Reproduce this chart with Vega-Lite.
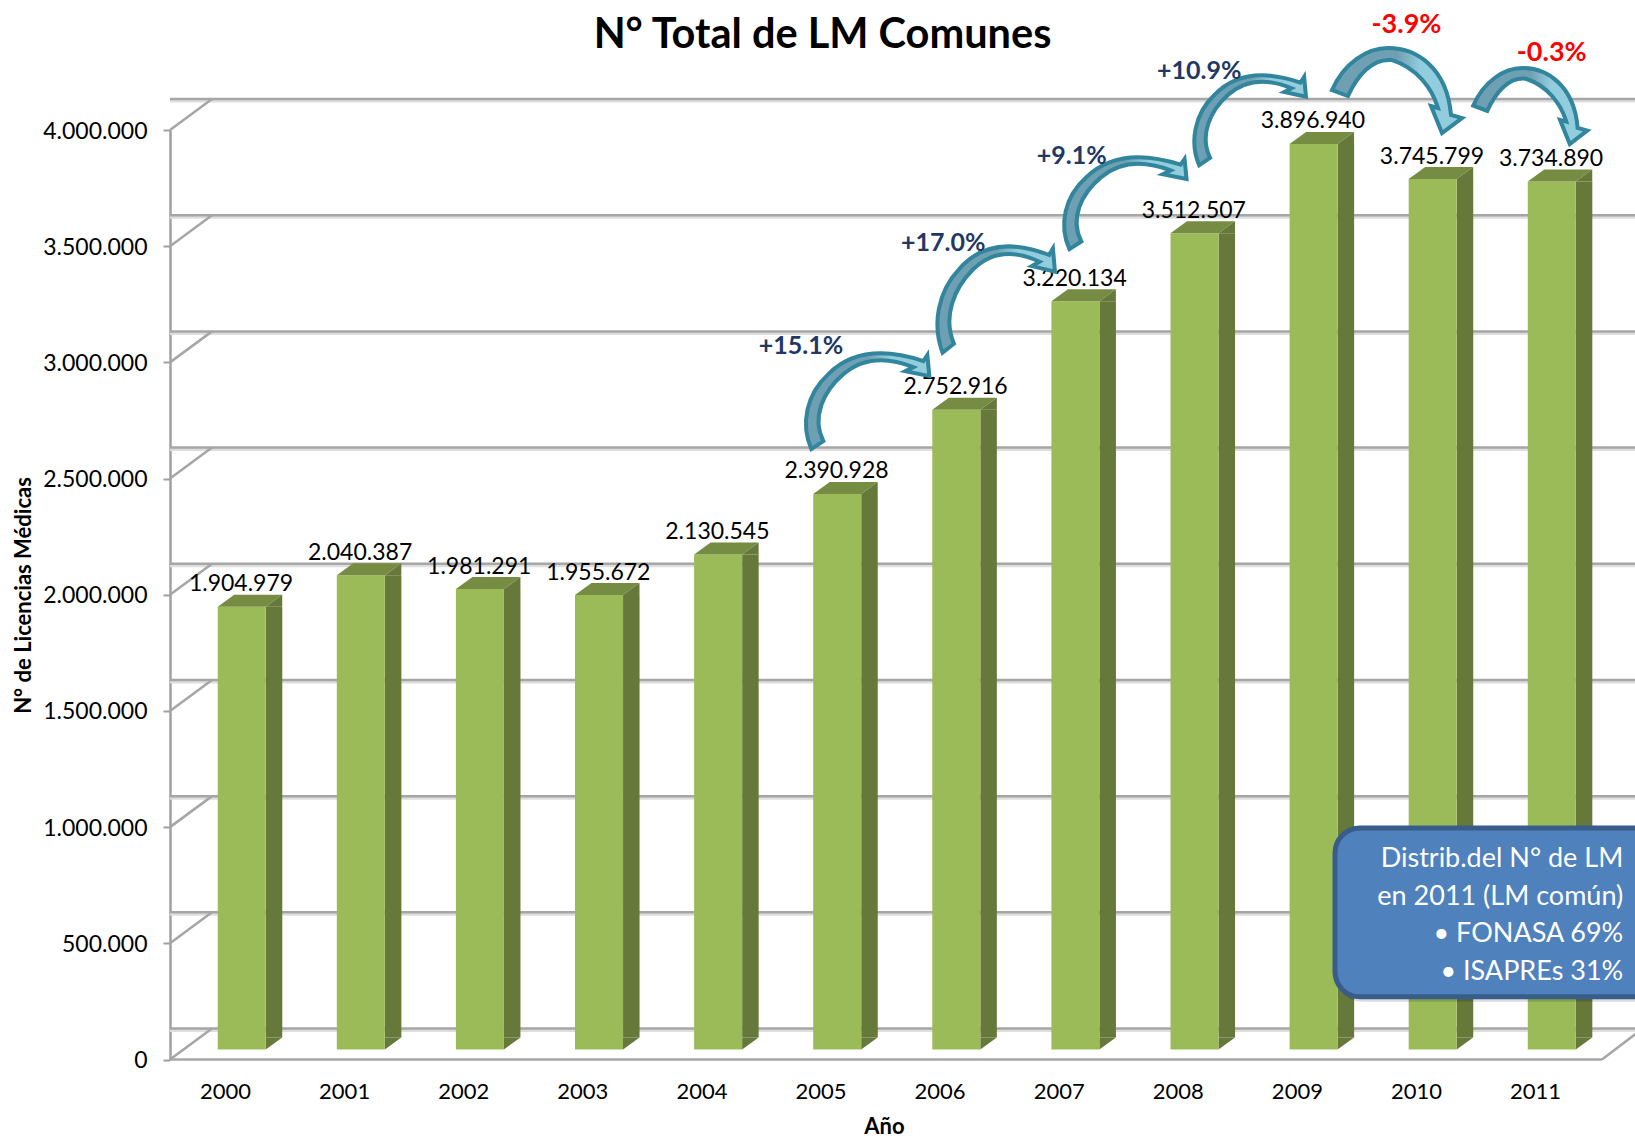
{
"$schema":"https://vega.github.io/schema/vega-lite/v6.json",
"autosize":{"type":"none"},
"padding":{"left":170,"top":130,"right":0,"bottom":78.5},
"width":1465,"height":929.5,
"background":"white",
"config":{"view":{"stroke":null},"font":"Lato","locale":{"number":{"decimal":",","thousands":".","grouping":[3],"currency":["$",""]}}},
"title":{"text":"N° Total de LM Comunes","font":"Lato","fontSize":41.5,"fontWeight":"bold","color":"black","anchor":"middle","frame":"group","dx":-80,"offset":-78,"baseline":"alphabetic"},
"datasets":{
"bars":[{"year":2000,"value":1904979},{"year":2001,"value":2040387},{"year":2002,"value":1981291},{"year":2003,"value":1955672},{"year":2004,"value":2130545},{"year":2005,"value":2390928},{"year":2006,"value":2752916},{"year":2007,"value":3220134},{"year":2008,"value":3512507},{"year":2009,"value":3896940},{"year":2010,"value":3745799},{"year":2011,"value":3734890}],
"grid":[{"tick":0},{"tick":500000},{"tick":1000000},{"tick":1500000},{"tick":2000000},{"tick":2500000},{"tick":3000000},{"tick":3500000},{"tick":4000000}],
"arrows":[{"arrow":"a1","ax":2004.856,"ay":3057100},{"arrow":"a2","ax":2005.961,"ay":3519300},{"arrow":"a3","ax":2007.024,"ay":3900300},{"arrow":"a4","ax":2008.119,"ay":4252500},{"arrow":"d1","ax":2009.295,"ay":4352700},{"arrow":"d2","ax":2010.481,"ay":4266700}],
"pct":[{"label":"+15.1%","kind":"up","px":2004.836,"py":3071300},{"label":"+17.0%","kind":"up","px":2006.03,"py":3513700},{"label":"+9.1%","kind":"up","px":2007.11,"py":3887400},{"label":"+10.9%","kind":"up","px":2008.18,"py":4252500},{"label":"-3.9%","kind":"down","px":2009.92,"py":4450100},{"label":"-0.3%","kind":"down","px":2011.14,"py":4329900}]
},
"layer":[
{"data":{"name":"grid"},"mark":{"type":"rule","color":"#dedede","strokeWidth":3,"xOffset":42,"x2Offset":42,"yOffset":-29},
 "encoding":{"y":{"field":"tick","type":"quantitative","scale":{"domain":[0,4000000],"nice":false,"zero":true},"axis":{"title":"N° de Licencias Médicas","titleFont":"Lato","titleFontSize":22,"titleFontWeight":"bold","titleColor":"black","titleX":-147,"titleY":465,"titleAngle":-90,"titleBaseline":"middle","titleAlign":"center","values":[0,500000,1000000,1500000,2000000,2500000,3000000,3500000,4000000],"format":",d","labelFont":"Lato","labelFontSize":23,"labelColor":"black","labelPadding":16,"labelOffset":1,"tickSize":7,"tickColor":"#a0a0a0","tickWidth":2,"domainColor":"#a0a0a0","domainWidth":2.5,"grid":false}}}},
{"data":{"name":"grid"},"mark":{"type":"rule","color":"#a6a6a6","strokeWidth":2.5,"xOffset":42,"x2Offset":42,"yOffset":-31},
 "encoding":{"y":{"field":"tick","type":"quantitative"}}},
{"data":{"name":"grid"},"mark":{"type":"point","shape":"M0,0 L42,-31","size":4,"filled":false,"fill":null,"stroke":"#a6a6a6","strokeWidth":2.5,"opacity":1},
 "encoding":{"x":{"datum":1999.538,"type":"quantitative"},"y":{"field":"tick","type":"quantitative"}}},
{"data":{"values":[{"floor":0}]},"mark":{"type":"rule","color":"#a6a6a6","strokeWidth":2.5},
 "encoding":{"x":{"datum":1999.538,"type":"quantitative","scale":{"domain":[1999.538,2011.839],"nice":false,"zero":false,"padding":0},"axis":{"title":"Año","titleFont":"Lato","titleFontSize":22,"titleFontWeight":"bold","titleColor":"black","titleX":714,"titleY":67,"titleBaseline":"middle","values":[2000,2001,2002,2003,2004,2005,2006,2007,2008,2009,2010,2011],"format":"d","labelFont":"Lato","labelFontSize":22,"labelColor":"black","labelPadding":22,"ticks":false,"domain":false,"grid":false}},"x2":{"datum":2011.562},"y":{"field":"floor","type":"quantitative"}}},
{"data":{"values":[{"floor":0}]},"mark":{"type":"point","shape":"M0,0 L42,-32","size":4,"filled":false,"fill":null,"stroke":"#a6a6a6","strokeWidth":2.5,"opacity":1},
 "encoding":{"x":{"datum":2011.562,"type":"quantitative"},"y":{"field":"floor","type":"quantitative"}}},
{"data":{"name":"bars"},"mark":{"type":"bar","orient":"vertical","width":16.5,"color":"#66793a","xOffset":49,"yOffset":-10,"y2Offset":-22},
 "encoding":{"x":{"field":"year","type":"quantitative"},"y":{"field":"value","type":"quantitative","stack":null},"y2":{"datum":0}}},
{"data":{"name":"bars"},"mark":{"type":"point","shape":"M40.7,-10 L57.2,-22 L40.7,-22 Z","size":4,"filled":true,"fill":"#66793a","strokeWidth":0,"opacity":1},
 "encoding":{"x":{"field":"year","type":"quantitative"},"y":{"datum":0,"type":"quantitative"}}},
{"data":{"name":"bars"},"mark":{"type":"bar","orient":"vertical","width":48,"color":"#9bbb59","xOffset":16.7,"yOffset":-10,"y2Offset":-10},
 "encoding":{"x":{"field":"year","type":"quantitative"},"y":{"field":"value","type":"quantitative","stack":null},"y2":{"datum":0}}},
{"data":{"name":"bars"},"mark":{"type":"point","shape":"M-7.3,-10 L40.7,-10 L57.2,-22 L9.2,-22 Z","size":4,"filled":true,"fill":"#778c43","strokeWidth":0,"opacity":1},
 "encoding":{"x":{"field":"year","type":"quantitative"},"y":{"field":"value","type":"quantitative"}}},
{"data":{"name":"bars"},"mark":{"type":"point","shape":"M40.7,-10 L57.2,-22 L57.2,-10 L40.7,-10 Z","size":4,"filled":true,"fill":"#66793a","strokeWidth":0,"opacity":1},
 "encoding":{"x":{"field":"year","type":"quantitative"},"y":{"field":"value","type":"quantitative"}}},
{"data":{"name":"bars"},"mark":{"type":"text","font":"Lato","fontSize":23,"color":"black","align":"center","baseline":"middle","xOffset":16,"yOffset":-32.5},
 "encoding":{"x":{"field":"year","type":"quantitative"},"y":{"field":"value","type":"quantitative"},"text":{"field":"value","type":"quantitative","format":",d"}}},
{"data":{"name":"arrows"},"mark":{"type":"point","size":4,"filled":true,"opacity":1,"stroke":"#31859c","strokeWidth":4,"fill":{"gradient":"linear","x1":0,"y1":0,"x2":1,"y2":0,"stops":[{"offset":0,"color":"#6f9fb2"},{"offset":0.5,"color":"#6f9fb2"},{"offset":0.68,"color":"#92cddd"},{"offset":1,"color":"#92cddd"}]}},
 "encoding":{"x":{"field":"ax","type":"quantitative"},"y":{"field":"ay","type":"quantitative"},"shape":{"field":"arrow","type":"nominal","legend":null,"scale":{"domain":["a1","a2","a3","a4","d1","d2"],"range":["M8,100 C-3,75 3,45 25,25 C45,5 75,-3 120,12 L124,6 L126,27 L102,22 L110,18 C85,8 60,8 40,25 C20,42 8,68 20,92 Z","M7.6,111 C-2.9,83 2.9,50 23.8,27.8 C42.8,5.6 71.4,-3.3 114.2,13.3 L118,6.7 L120,30 L97,24.4 L104.7,20 C80.9,8.9 57.1,8.9 38,27.8 C19,46.6 7.6,75.5 19,102 Z","M7.9,96 C-3,72 3,43.2 24.8,24 C44.6,4.8 74.4,-2.9 119,11.5 L123,5.8 L125,25.9 L101.2,21.1 L109.1,17.3 C84.3,7.7 59.5,7.7 39.7,24 C19.8,40.3 7.9,65.3 19.8,88.3 Z","M7.2,94 C-2.7,70.5 2.7,42.3 22.6,23.5 C40.7,4.7 67.9,-2.8 108.6,11.3 L112.2,5.6 L114,25.4 L92.3,20.7 L99.6,16.9 C76.9,7.5 54.3,7.5 36.2,23.5 C18.1,39.5 7.2,63.9 18.1,86.5 Z","M0,42 C12,15 35,0 56,0 C85,0 115,20 119,67 L130,70 L110,85 L99,58 L106,60 C100,40 85,20 60,12 C40,10 25,28 16,48 Z","M0,37.5 C10.5,13.4 30.7,0 49.1,0 C74.5,0 100.9,17.9 104.4,59.9 L114,62.6 L96.5,76 L86.8,51.9 L93,53.6 C87.7,35.8 74.5,17.9 52.6,10.7 C35,8.9 21.9,25 14,42.9 Z"]}}}},
{"data":{"name":"pct"},"mark":{"type":"text","font":"Lato","fontWeight":"bold","align":"center","baseline":"middle"},
 "encoding":{"x":{"field":"px","type":"quantitative"},"y":{"field":"py","type":"quantitative"},"text":{"field":"label","type":"nominal"},"size":{"field":"kind","type":"nominal","legend":null,"scale":{"domain":["up","down"],"range":[25,27]}},"color":{"field":"kind","type":"nominal","legend":null,"scale":{"domain":["up","down"],"range":["#1f3864","#ff0000"]}}}},
{"data":{"values":[{"bx":2009.32,"bx2":2012.2,"by":996600,"by2":270000}]},"mark":{"type":"rect","fill":"#000000","opacity":0.14,"cornerRadius":25,"xOffset":2,"x2Offset":2,"yOffset":5,"y2Offset":5},
 "encoding":{"x":{"field":"bx","type":"quantitative"},"x2":{"field":"bx2"},"y":{"field":"by","type":"quantitative"},"y2":{"field":"by2"}}},
{"data":{"values":[{"bx":2009.32,"bx2":2012.2,"by":996600,"by2":270000}]},"mark":{"type":"rect","fill":"#4f81bd","stroke":"#385d8a","strokeWidth":5,"cornerRadius":25},
 "encoding":{"x":{"field":"bx","type":"quantitative"},"x2":{"field":"bx2"},"y":{"field":"by","type":"quantitative"},"y2":{"field":"by2"}}},
{"data":{"values":[{"tx":2011.74,"ty":919000}]},"mark":{"type":"text","font":"Lato","fontSize":27,"color":"white","align":"right","baseline":"top","lineHeight":37.7,"text":["Distrib.del N° de LM","en 2011 (LM común)","• FONASA 69%","• ISAPREs 31%"]},
 "encoding":{"x":{"field":"tx","type":"quantitative"},"y":{"field":"ty","type":"quantitative"}}}
]
}
